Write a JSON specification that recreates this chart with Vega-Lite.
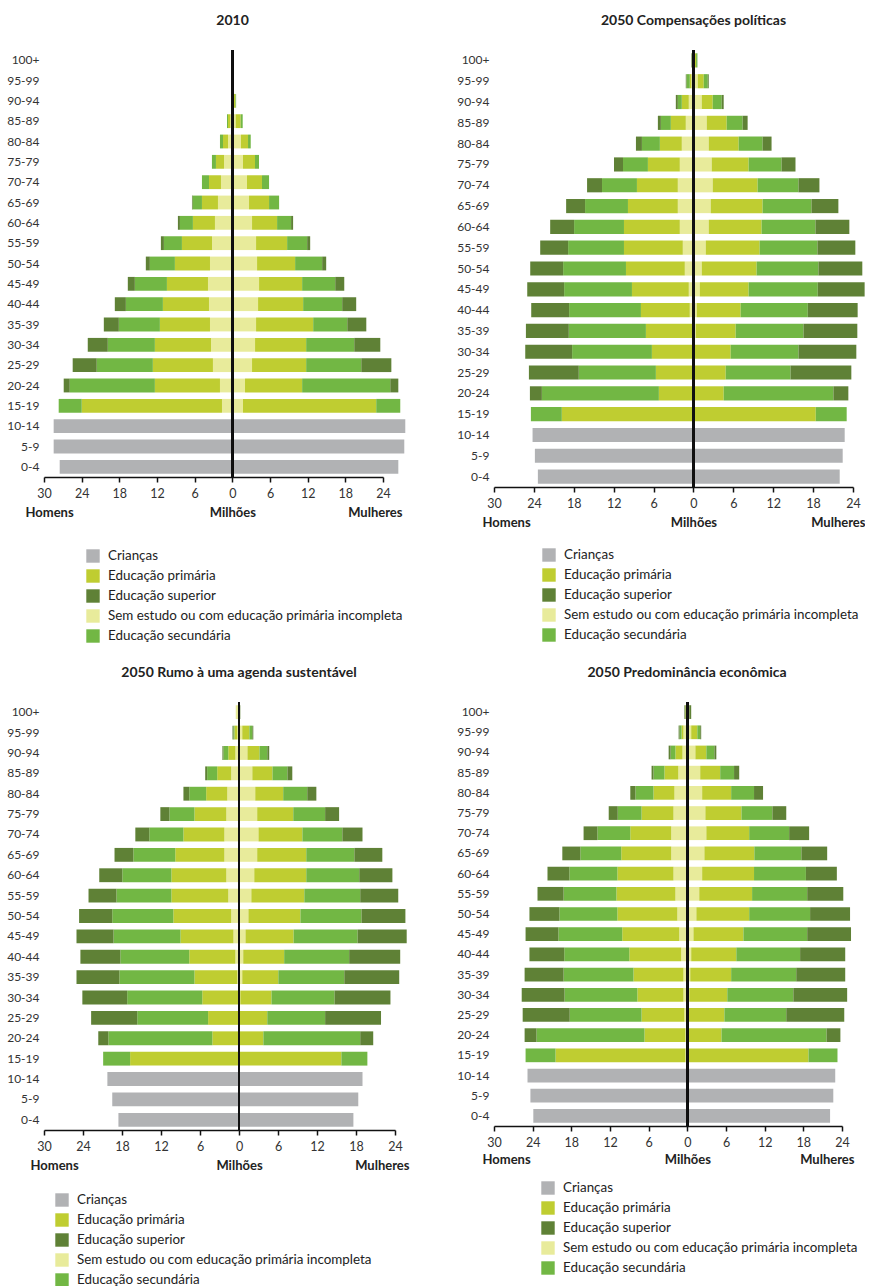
{
"$schema": "https://vega.github.io/schema/vega-lite/v6.json",
"padding": {"left": 6, "top": 14, "right": 0, "bottom": 0},
"config": {"font": "Lato", "view": {"stroke": null},
 "title": {"font": "Lato", "fontSize": 14, "fontWeight": "bold", "color": "#222"},
 "axis": {"labelFont": "Lato", "labelColor": "#333", "labelFontSize": 12},
 "legend": {"labelFont": "Lato", "labelFontSize": 13.4, "labelColor": "#222", "symbolType": "square", "symbolSize": 180, "symbolStrokeWidth": 0, "symbolOpacity": 1, "rowPadding": 6, "labelOffset": 8, "labelLimit": 400}},
"datasets": {
"cats": [
 {"k": "cri", "cat": "Crianças", "o": 0},
 {"k": "sem", "cat": "Sem estudo ou com educação primária incompleta", "o": 1},
 {"k": "pri", "cat": "Educação primária", "o": 2},
 {"k": "sec", "cat": "Educação secundária", "o": 3},
 {"k": "sup", "cat": "Educação superior", "o": 4}
],
"d": [
{"p":"a","g":"95-99","k":"pri","v":-0.2},
{"p":"a","g":"90-94","k":"pri","v":-0.2},{"p":"a","g":"90-94","k":"pri","v":0.5},{"p":"a","g":"90-94","k":"sec","v":0.1},
{"p":"a","g":"85-89","k":"sem","v":-0.32},{"p":"a","g":"85-89","k":"pri","v":-0.37},{"p":"a","g":"85-89","k":"sec","v":-0.16},{"p":"a","g":"85-89","k":"sem","v":0.53},{"p":"a","g":"85-89","k":"pri","v":0.8},{"p":"a","g":"85-89","k":"sec","v":0.32},
{"p":"a","g":"80-84","k":"sem","v":-0.69},{"p":"a","g":"80-84","k":"pri","v":-0.8},{"p":"a","g":"80-84","k":"sec","v":-0.48},{"p":"a","g":"80-84","k":"sem","v":1.38},{"p":"a","g":"80-84","k":"pri","v":1.12},{"p":"a","g":"80-84","k":"sec","v":0.43},
{"p":"a","g":"75-79","k":"sem","v":-1.33},{"p":"a","g":"75-79","k":"pri","v":-1.28},{"p":"a","g":"75-79","k":"sec","v":-0.64},{"p":"a","g":"75-79","k":"sem","v":1.7},{"p":"a","g":"75-79","k":"pri","v":1.91},{"p":"a","g":"75-79","k":"sec","v":0.64},
{"p":"a","g":"70-74","k":"sem","v":-1.81},{"p":"a","g":"70-74","k":"pri","v":-1.91},{"p":"a","g":"70-74","k":"sec","v":-1.12},{"p":"a","g":"70-74","k":"sem","v":2.34},{"p":"a","g":"70-74","k":"pri","v":2.39},{"p":"a","g":"70-74","k":"sec","v":1.12},
{"p":"a","g":"65-69","k":"sem","v":-2.29},{"p":"a","g":"65-69","k":"pri","v":-2.55},{"p":"a","g":"65-69","k":"sec","v":-1.49},{"p":"a","g":"65-69","k":"sup","v":-0.1},{"p":"a","g":"65-69","k":"sem","v":2.66},{"p":"a","g":"65-69","k":"pri","v":3.19},{"p":"a","g":"65-69","k":"sec","v":1.6},
{"p":"a","g":"60-64","k":"sem","v":-2.77},{"p":"a","g":"60-64","k":"pri","v":-3.51},{"p":"a","g":"60-64","k":"sec","v":-2.07},{"p":"a","g":"60-64","k":"sup","v":-0.32},{"p":"a","g":"60-64","k":"sem","v":3.14},{"p":"a","g":"60-64","k":"pri","v":3.99},{"p":"a","g":"60-64","k":"sec","v":2.23},{"p":"a","g":"60-64","k":"sup","v":0.32},
{"p":"a","g":"55-59","k":"sem","v":-3.24},{"p":"a","g":"55-59","k":"pri","v":-4.79},{"p":"a","g":"55-59","k":"sec","v":-2.87},{"p":"a","g":"55-59","k":"sup","v":-0.48},{"p":"a","g":"55-59","k":"sem","v":3.78},{"p":"a","g":"55-59","k":"pri","v":4.95},{"p":"a","g":"55-59","k":"sec","v":3.19},{"p":"a","g":"55-59","k":"sup","v":0.48},
{"p":"a","g":"50-54","k":"sem","v":-3.56},{"p":"a","g":"50-54","k":"pri","v":-5.59},{"p":"a","g":"50-54","k":"sec","v":-3.99},{"p":"a","g":"50-54","k":"sup","v":-0.64},{"p":"a","g":"50-54","k":"sem","v":3.94},{"p":"a","g":"50-54","k":"pri","v":6.06},{"p":"a","g":"50-54","k":"sec","v":4.31},{"p":"a","g":"50-54","k":"sup","v":0.64},
{"p":"a","g":"45-49","k":"sem","v":-3.88},{"p":"a","g":"45-49","k":"pri","v":-6.54},{"p":"a","g":"45-49","k":"sec","v":-5.11},{"p":"a","g":"45-49","k":"sup","v":-1.12},{"p":"a","g":"45-49","k":"sem","v":4.26},{"p":"a","g":"45-49","k":"pri","v":6.86},{"p":"a","g":"45-49","k":"sec","v":5.27},{"p":"a","g":"45-49","k":"sup","v":1.44},
{"p":"a","g":"40-44","k":"sem","v":-3.72},{"p":"a","g":"40-44","k":"pri","v":-7.34},{"p":"a","g":"40-44","k":"sec","v":-5.9},{"p":"a","g":"40-44","k":"sup","v":-1.76},{"p":"a","g":"40-44","k":"sem","v":4.1},{"p":"a","g":"40-44","k":"pri","v":7.18},{"p":"a","g":"40-44","k":"sec","v":6.22},{"p":"a","g":"40-44","k":"sup","v":2.23},
{"p":"a","g":"35-39","k":"sem","v":-3.56},{"p":"a","g":"35-39","k":"pri","v":-7.98},{"p":"a","g":"35-39","k":"sec","v":-6.54},{"p":"a","g":"35-39","k":"sup","v":-2.39},{"p":"a","g":"35-39","k":"sem","v":3.78},{"p":"a","g":"35-39","k":"pri","v":9.1},{"p":"a","g":"35-39","k":"sec","v":5.43},{"p":"a","g":"35-39","k":"sup","v":3.03},
{"p":"a","g":"30-34","k":"sem","v":-3.4},{"p":"a","g":"30-34","k":"pri","v":-8.94},{"p":"a","g":"30-34","k":"sec","v":-7.5},{"p":"a","g":"30-34","k":"sup","v":-3.19},{"p":"a","g":"30-34","k":"sem","v":3.62},{"p":"a","g":"30-34","k":"pri","v":8.14},{"p":"a","g":"30-34","k":"sec","v":7.66},{"p":"a","g":"30-34","k":"sup","v":4.15},
{"p":"a","g":"25-29","k":"sem","v":-3.09},{"p":"a","g":"25-29","k":"pri","v":-9.57},{"p":"a","g":"25-29","k":"sec","v":-8.94},{"p":"a","g":"25-29","k":"sup","v":-3.83},{"p":"a","g":"25-29","k":"sem","v":3.14},{"p":"a","g":"25-29","k":"pri","v":8.62},{"p":"a","g":"25-29","k":"sec","v":8.78},{"p":"a","g":"25-29","k":"sup","v":4.79},
{"p":"a","g":"20-24","k":"sem","v":-1.97},{"p":"a","g":"20-24","k":"pri","v":-10.37},{"p":"a","g":"20-24","k":"sec","v":-13.56},{"p":"a","g":"20-24","k":"sup","v":-0.96},{"p":"a","g":"20-24","k":"sem","v":2.02},{"p":"a","g":"20-24","k":"pri","v":9.1},{"p":"a","g":"20-24","k":"sec","v":14.04},{"p":"a","g":"20-24","k":"sup","v":1.28},
{"p":"a","g":"15-19","k":"sem","v":-1.65},{"p":"a","g":"15-19","k":"pri","v":-22.34},{"p":"a","g":"15-19","k":"sec","v":-3.67},{"p":"a","g":"15-19","k":"sem","v":1.7},{"p":"a","g":"15-19","k":"pri","v":21.22},{"p":"a","g":"15-19","k":"sec","v":3.83},
{"p":"a","g":"10-14","k":"cri","v":-28.46},{"p":"a","g":"10-14","k":"cri","v":27.55},
{"p":"a","g":"5-9","k":"cri","v":-28.46},{"p":"a","g":"5-9","k":"cri","v":27.39},
{"p":"a","g":"0-4","k":"cri","v":-27.5},{"p":"a","g":"0-4","k":"cri","v":26.44},

{"p":"b","g":"100+","k":"pri","v":-0.1},{"p":"b","g":"100+","k":"sup","v":-0.2},{"p":"b","g":"100+","k":"sem","v":0.1},{"p":"b","g":"100+","k":"pri","v":0.3},{"p":"b","g":"100+","k":"sec","v":0.2},
{"p":"b","g":"95-99","k":"sem","v":-0.3},{"p":"b","g":"95-99","k":"pri","v":-0.25},{"p":"b","g":"95-99","k":"sec","v":-0.5},{"p":"b","g":"95-99","k":"sup","v":-0.1},{"p":"b","g":"95-99","k":"sem","v":0.65},{"p":"b","g":"95-99","k":"pri","v":0.9},{"p":"b","g":"95-99","k":"sec","v":0.6},{"p":"b","g":"95-99","k":"sup","v":0.15},
{"p":"b","g":"90-94","k":"sem","v":-0.7},{"p":"b","g":"90-94","k":"pri","v":-1.05},{"p":"b","g":"90-94","k":"sec","v":-0.6},{"p":"b","g":"90-94","k":"sup","v":-0.3},{"p":"b","g":"90-94","k":"sem","v":1.25},{"p":"b","g":"90-94","k":"pri","v":1.65},{"p":"b","g":"90-94","k":"sec","v":1.35},{"p":"b","g":"90-94","k":"sup","v":0.3},
{"p":"b","g":"85-89","k":"sem","v":-1.15},{"p":"b","g":"85-89","k":"pri","v":-2.25},{"p":"b","g":"85-89","k":"sec","v":-1.5},{"p":"b","g":"85-89","k":"sup","v":-0.45},{"p":"b","g":"85-89","k":"sem","v":2.0},{"p":"b","g":"85-89","k":"pri","v":3.0},{"p":"b","g":"85-89","k":"sec","v":2.4},{"p":"b","g":"85-89","k":"sup","v":0.75},
{"p":"b","g":"80-84","k":"sem","v":-1.75},{"p":"b","g":"80-84","k":"pri","v":-3.3},{"p":"b","g":"80-84","k":"sec","v":-2.7},{"p":"b","g":"80-84","k":"sup","v":-0.9},{"p":"b","g":"80-84","k":"sem","v":2.3},{"p":"b","g":"80-84","k":"pri","v":4.5},{"p":"b","g":"80-84","k":"sec","v":3.6},{"p":"b","g":"80-84","k":"sup","v":1.35},
{"p":"b","g":"75-79","k":"sem","v":-2.05},{"p":"b","g":"75-79","k":"pri","v":-4.8},{"p":"b","g":"75-79","k":"sec","v":-3.75},{"p":"b","g":"75-79","k":"sup","v":-1.35},{"p":"b","g":"75-79","k":"sem","v":2.75},{"p":"b","g":"75-79","k":"pri","v":5.55},{"p":"b","g":"75-79","k":"sec","v":4.95},{"p":"b","g":"75-79","k":"sup","v":2.1},
{"p":"b","g":"70-74","k":"sem","v":-2.35},{"p":"b","g":"70-74","k":"pri","v":-6.15},{"p":"b","g":"70-74","k":"sec","v":-5.25},{"p":"b","g":"70-74","k":"sup","v":-2.25},{"p":"b","g":"70-74","k":"sem","v":2.9},{"p":"b","g":"70-74","k":"pri","v":6.75},{"p":"b","g":"70-74","k":"sec","v":6.15},{"p":"b","g":"70-74","k":"sup","v":3.15},
{"p":"b","g":"65-69","k":"sem","v":-2.35},{"p":"b","g":"65-69","k":"pri","v":-7.5},{"p":"b","g":"65-69","k":"sec","v":-6.45},{"p":"b","g":"65-69","k":"sup","v":-2.85},{"p":"b","g":"65-69","k":"sem","v":2.6},{"p":"b","g":"65-69","k":"pri","v":7.8},{"p":"b","g":"65-69","k":"sec","v":7.35},{"p":"b","g":"65-69","k":"sup","v":4.05},
{"p":"b","g":"60-64","k":"sem","v":-2.05},{"p":"b","g":"60-64","k":"pri","v":-8.4},{"p":"b","g":"60-64","k":"sec","v":-7.5},{"p":"b","g":"60-64","k":"sup","v":-3.6},{"p":"b","g":"60-64","k":"sem","v":2.3},{"p":"b","g":"60-64","k":"pri","v":7.95},{"p":"b","g":"60-64","k":"sec","v":8.1},{"p":"b","g":"60-64","k":"sup","v":5.1},
{"p":"b","g":"55-59","k":"sem","v":-1.6},{"p":"b","g":"55-59","k":"pri","v":-8.85},{"p":"b","g":"55-59","k":"sec","v":-8.4},{"p":"b","g":"55-59","k":"sup","v":-4.2},{"p":"b","g":"55-59","k":"sem","v":1.85},{"p":"b","g":"55-59","k":"pri","v":8.1},{"p":"b","g":"55-59","k":"sec","v":8.7},{"p":"b","g":"55-59","k":"sup","v":5.7},
{"p":"b","g":"50-54","k":"sem","v":-1.3},{"p":"b","g":"50-54","k":"pri","v":-8.85},{"p":"b","g":"50-54","k":"sec","v":-9.45},{"p":"b","g":"50-54","k":"sup","v":-4.95},{"p":"b","g":"50-54","k":"sem","v":1.25},{"p":"b","g":"50-54","k":"pri","v":8.25},{"p":"b","g":"50-54","k":"sec","v":9.3},{"p":"b","g":"50-54","k":"sup","v":6.6},
{"p":"b","g":"45-49","k":"sem","v":-0.7},{"p":"b","g":"45-49","k":"pri","v":-8.55},{"p":"b","g":"45-49","k":"sec","v":-10.2},{"p":"b","g":"45-49","k":"sup","v":-5.55},{"p":"b","g":"45-49","k":"sem","v":0.95},{"p":"b","g":"45-49","k":"pri","v":7.35},{"p":"b","g":"45-49","k":"sec","v":10.4},{"p":"b","g":"45-49","k":"sup","v":7.05},
{"p":"b","g":"40-44","k":"sem","v":-0.55},{"p":"b","g":"40-44","k":"pri","v":-7.35},{"p":"b","g":"40-44","k":"sec","v":-10.8},{"p":"b","g":"40-44","k":"sup","v":-5.7},{"p":"b","g":"40-44","k":"sem","v":0.5},{"p":"b","g":"40-44","k":"pri","v":6.6},{"p":"b","g":"40-44","k":"sec","v":10.1},{"p":"b","g":"40-44","k":"sup","v":7.5},
{"p":"b","g":"35-39","k":"sem","v":-0.2},{"p":"b","g":"35-39","k":"pri","v":-6.95},{"p":"b","g":"35-39","k":"sec","v":-11.6},{"p":"b","g":"35-39","k":"sup","v":-6.45},{"p":"b","g":"35-39","k":"sem","v":0.35},{"p":"b","g":"35-39","k":"pri","v":6.0},{"p":"b","g":"35-39","k":"sec","v":10.2},{"p":"b","g":"35-39","k":"sup","v":8.1},
{"p":"b","g":"30-34","k":"sem","v":-0.2},{"p":"b","g":"30-34","k":"pri","v":-6.05},{"p":"b","g":"30-34","k":"sec","v":-12.0},{"p":"b","g":"30-34","k":"sup","v":-7.05},{"p":"b","g":"30-34","k":"sem","v":0.1},{"p":"b","g":"30-34","k":"pri","v":5.5},{"p":"b","g":"30-34","k":"sec","v":10.2},{"p":"b","g":"30-34","k":"sup","v":8.7},
{"p":"b","g":"25-29","k":"sem","v":-0.1},{"p":"b","g":"25-29","k":"pri","v":-5.55},{"p":"b","g":"25-29","k":"sec","v":-11.6},{"p":"b","g":"25-29","k":"sup","v":-7.5},{"p":"b","g":"25-29","k":"sem","v":0.1},{"p":"b","g":"25-29","k":"pri","v":4.75},{"p":"b","g":"25-29","k":"sec","v":9.75},{"p":"b","g":"25-29","k":"sup","v":9.15},
{"p":"b","g":"20-24","k":"sem","v":-0.1},{"p":"b","g":"20-24","k":"pri","v":-5.1},{"p":"b","g":"20-24","k":"sec","v":-17.6},{"p":"b","g":"20-24","k":"sup","v":-1.8},{"p":"b","g":"20-24","k":"sem","v":0.1},{"p":"b","g":"20-24","k":"pri","v":4.45},{"p":"b","g":"20-24","k":"sec","v":16.5},{"p":"b","g":"20-24","k":"sup","v":2.25},
{"p":"b","g":"15-19","k":"sem","v":-0.1},{"p":"b","g":"15-19","k":"pri","v":-19.7},{"p":"b","g":"15-19","k":"sec","v":-4.65},{"p":"b","g":"15-19","k":"sem","v":0.1},{"p":"b","g":"15-19","k":"pri","v":18.3},{"p":"b","g":"15-19","k":"sec","v":4.65},
{"p":"b","g":"10-14","k":"cri","v":-24.2},{"p":"b","g":"10-14","k":"cri","v":22.75},
{"p":"b","g":"5-9","k":"cri","v":-23.85},{"p":"b","g":"5-9","k":"cri","v":22.45},
{"p":"b","g":"0-4","k":"cri","v":-23.4},{"p":"b","g":"0-4","k":"cri","v":22.0},

{"p":"c","g":"100+","k":"sem","v":-0.5},{"p":"c","g":"100+","k":"sup","v":0.2},
{"p":"c","g":"95-99","k":"sem","v":-0.25},{"p":"c","g":"95-99","k":"pri","v":-0.45},{"p":"c","g":"95-99","k":"sec","v":-0.15},{"p":"c","g":"95-99","k":"sup","v":-0.15},{"p":"c","g":"95-99","k":"sem","v":0.5},{"p":"c","g":"95-99","k":"pri","v":1.1},{"p":"c","g":"95-99","k":"sec","v":0.45},{"p":"c","g":"95-99","k":"sup","v":0.15},
{"p":"c","g":"90-94","k":"sem","v":-0.55},{"p":"c","g":"90-94","k":"pri","v":-1.1},{"p":"c","g":"90-94","k":"sec","v":-0.75},{"p":"c","g":"90-94","k":"sup","v":-0.15},{"p":"c","g":"90-94","k":"sem","v":1.3},{"p":"c","g":"90-94","k":"pri","v":1.85},{"p":"c","g":"90-94","k":"sec","v":1.2},{"p":"c","g":"90-94","k":"sup","v":0.3},
{"p":"c","g":"85-89","k":"sem","v":-1.2},{"p":"c","g":"85-89","k":"pri","v":-2.15},{"p":"c","g":"85-89","k":"sec","v":-1.55},{"p":"c","g":"85-89","k":"sup","v":-0.3},{"p":"c","g":"85-89","k":"sem","v":2.05},{"p":"c","g":"85-89","k":"pri","v":3.1},{"p":"c","g":"85-89","k":"sec","v":2.3},{"p":"c","g":"85-89","k":"sup","v":0.75},
{"p":"c","g":"80-84","k":"sem","v":-1.8},{"p":"c","g":"80-84","k":"pri","v":-3.25},{"p":"c","g":"80-84","k":"sec","v":-2.6},{"p":"c","g":"80-84","k":"sup","v":-0.9},{"p":"c","g":"80-84","k":"sem","v":2.5},{"p":"c","g":"80-84","k":"pri","v":4.3},{"p":"c","g":"80-84","k":"sec","v":3.7},{"p":"c","g":"80-84","k":"sup","v":1.4},
{"p":"c","g":"75-79","k":"sem","v":-1.95},{"p":"c","g":"75-79","k":"pri","v":-4.9},{"p":"c","g":"75-79","k":"sec","v":-3.85},{"p":"c","g":"75-79","k":"sup","v":-1.4},{"p":"c","g":"75-79","k":"sem","v":2.8},{"p":"c","g":"75-79","k":"pri","v":5.55},{"p":"c","g":"75-79","k":"sec","v":4.9},{"p":"c","g":"75-79","k":"sup","v":2.15},
{"p":"c","g":"70-74","k":"sem","v":-2.25},{"p":"c","g":"70-74","k":"pri","v":-6.3},{"p":"c","g":"70-74","k":"sec","v":-5.25},{"p":"c","g":"70-74","k":"sup","v":-2.15},{"p":"c","g":"70-74","k":"sem","v":3.0},{"p":"c","g":"70-74","k":"pri","v":6.75},{"p":"c","g":"70-74","k":"sec","v":6.15},{"p":"c","g":"70-74","k":"sup","v":3.1},
{"p":"c","g":"65-69","k":"sem","v":-2.25},{"p":"c","g":"65-69","k":"pri","v":-7.55},{"p":"c","g":"65-69","k":"sec","v":-6.45},{"p":"c","g":"65-69","k":"sup","v":-2.9},{"p":"c","g":"65-69","k":"sem","v":2.8},{"p":"c","g":"65-69","k":"pri","v":7.55},{"p":"c","g":"65-69","k":"sec","v":7.4},{"p":"c","g":"65-69","k":"sup","v":4.3},
{"p":"c","g":"60-64","k":"sem","v":-1.95},{"p":"c","g":"60-64","k":"pri","v":-8.45},{"p":"c","g":"60-64","k":"sec","v":-7.55},{"p":"c","g":"60-64","k":"sup","v":-3.55},{"p":"c","g":"60-64","k":"sem","v":2.35},{"p":"c","g":"60-64","k":"pri","v":8.0},{"p":"c","g":"60-64","k":"sec","v":8.15},{"p":"c","g":"60-64","k":"sup","v":5.1},
{"p":"c","g":"55-59","k":"sem","v":-1.65},{"p":"c","g":"55-59","k":"pri","v":-8.75},{"p":"c","g":"55-59","k":"sec","v":-8.45},{"p":"c","g":"55-59","k":"sup","v":-4.3},{"p":"c","g":"55-59","k":"sem","v":1.9},{"p":"c","g":"55-59","k":"pri","v":8.15},{"p":"c","g":"55-59","k":"sec","v":8.6},{"p":"c","g":"55-59","k":"sup","v":5.85},
{"p":"c","g":"50-54","k":"sem","v":-1.2},{"p":"c","g":"50-54","k":"pri","v":-8.9},{"p":"c","g":"50-54","k":"sec","v":-9.4},{"p":"c","g":"50-54","k":"sup","v":-5.1},{"p":"c","g":"50-54","k":"sem","v":1.45},{"p":"c","g":"50-54","k":"pri","v":8.0},{"p":"c","g":"50-54","k":"sec","v":9.4},{"p":"c","g":"50-54","k":"sup","v":6.75},
{"p":"c","g":"45-49","k":"sem","v":-0.85},{"p":"c","g":"45-49","k":"pri","v":-8.15},{"p":"c","g":"45-49","k":"sec","v":-10.3},{"p":"c","g":"45-49","k":"sup","v":-5.7},{"p":"c","g":"45-49","k":"sem","v":1.0},{"p":"c","g":"45-49","k":"pri","v":7.4},{"p":"c","g":"45-49","k":"sec","v":9.85},{"p":"c","g":"45-49","k":"sup","v":7.55},
{"p":"c","g":"40-44","k":"sem","v":-0.55},{"p":"c","g":"40-44","k":"pri","v":-7.1},{"p":"c","g":"40-44","k":"sec","v":-10.6},{"p":"c","g":"40-44","k":"sup","v":-6.15},{"p":"c","g":"40-44","k":"sem","v":0.65},{"p":"c","g":"40-44","k":"pri","v":6.3},{"p":"c","g":"40-44","k":"sec","v":10.0},{"p":"c","g":"40-44","k":"sup","v":7.85},
{"p":"c","g":"35-39","k":"sem","v":-0.25},{"p":"c","g":"35-39","k":"pri","v":-6.6},{"p":"c","g":"35-39","k":"sec","v":-11.55},{"p":"c","g":"35-39","k":"sup","v":-6.6},{"p":"c","g":"35-39","k":"sem","v":0.5},{"p":"c","g":"35-39","k":"pri","v":5.55},{"p":"c","g":"35-39","k":"sec","v":10.15},{"p":"c","g":"35-39","k":"sup","v":8.45},
{"p":"c","g":"30-34","k":"sem","v":-0.1},{"p":"c","g":"30-34","k":"pri","v":-5.55},{"p":"c","g":"30-34","k":"sec","v":-11.55},{"p":"c","g":"30-34","k":"sup","v":-6.9},{"p":"c","g":"30-34","k":"sem","v":0.2},{"p":"c","g":"30-34","k":"pri","v":4.8},{"p":"c","g":"30-34","k":"sec","v":9.7},{"p":"c","g":"30-34","k":"sup","v":8.6},
{"p":"c","g":"25-29","k":"sem","v":-0.05},{"p":"c","g":"25-29","k":"pri","v":-4.7},{"p":"c","g":"25-29","k":"sec","v":-10.9},{"p":"c","g":"25-29","k":"sup","v":-7.1},{"p":"c","g":"25-29","k":"sem","v":0.05},{"p":"c","g":"25-29","k":"pri","v":4.3},{"p":"c","g":"25-29","k":"sec","v":8.9},{"p":"c","g":"25-29","k":"sup","v":8.6},
{"p":"c","g":"20-24","k":"sem","v":-0.05},{"p":"c","g":"20-24","k":"pri","v":-4.05},{"p":"c","g":"20-24","k":"sec","v":-16.0},{"p":"c","g":"20-24","k":"sup","v":-1.55},{"p":"c","g":"20-24","k":"sem","v":0.05},{"p":"c","g":"20-24","k":"pri","v":3.7},{"p":"c","g":"20-24","k":"sec","v":14.9},{"p":"c","g":"20-24","k":"sup","v":2.0},
{"p":"c","g":"15-19","k":"sem","v":-0.05},{"p":"c","g":"15-19","k":"pri","v":-16.7},{"p":"c","g":"15-19","k":"sec","v":-4.15},{"p":"c","g":"15-19","k":"sem","v":0.05},{"p":"c","g":"15-19","k":"pri","v":15.7},{"p":"c","g":"15-19","k":"sec","v":4.0},
{"p":"c","g":"10-14","k":"cri","v":-20.25},{"p":"c","g":"10-14","k":"cri","v":19.0},
{"p":"c","g":"5-9","k":"cri","v":-19.5},{"p":"c","g":"5-9","k":"cri","v":18.35},
{"p":"c","g":"0-4","k":"cri","v":-18.55},{"p":"c","g":"0-4","k":"cri","v":17.6},

{"p":"d","g":"100+","k":"pri","v":-0.3},{"p":"d","g":"100+","k":"sup","v":-0.15},{"p":"d","g":"100+","k":"pri","v":0.3},{"p":"d","g":"100+","k":"sup","v":0.3},
{"p":"d","g":"95-99","k":"sem","v":-0.6},{"p":"d","g":"95-99","k":"pri","v":-0.3},{"p":"d","g":"95-99","k":"sec","v":-0.3},{"p":"d","g":"95-99","k":"sup","v":-0.15},{"p":"d","g":"95-99","k":"sem","v":0.6},{"p":"d","g":"95-99","k":"pri","v":0.95},{"p":"d","g":"95-99","k":"sec","v":0.45},{"p":"d","g":"95-99","k":"sup","v":0.15},
{"p":"d","g":"90-94","k":"sem","v":-0.75},{"p":"d","g":"90-94","k":"pri","v":-1.1},{"p":"d","g":"90-94","k":"sec","v":-0.75},{"p":"d","g":"90-94","k":"sup","v":-0.3},{"p":"d","g":"90-94","k":"sem","v":1.25},{"p":"d","g":"90-94","k":"pri","v":1.7},{"p":"d","g":"90-94","k":"sec","v":1.25},{"p":"d","g":"90-94","k":"sup","v":0.3},
{"p":"d","g":"85-89","k":"sem","v":-1.4},{"p":"d","g":"85-89","k":"pri","v":-2.15},{"p":"d","g":"85-89","k":"sec","v":-1.7},{"p":"d","g":"85-89","k":"sup","v":-0.3},{"p":"d","g":"85-89","k":"sem","v":2.0},{"p":"d","g":"85-89","k":"pri","v":3.1},{"p":"d","g":"85-89","k":"sec","v":2.15},{"p":"d","g":"85-89","k":"sup","v":0.8},
{"p":"d","g":"80-84","k":"sem","v":-2.0},{"p":"d","g":"80-84","k":"pri","v":-3.25},{"p":"d","g":"80-84","k":"sec","v":-2.8},{"p":"d","g":"80-84","k":"sup","v":-0.8},{"p":"d","g":"80-84","k":"sem","v":2.3},{"p":"d","g":"80-84","k":"pri","v":4.5},{"p":"d","g":"80-84","k":"sec","v":3.55},{"p":"d","g":"80-84","k":"sup","v":1.4},
{"p":"d","g":"75-79","k":"sem","v":-2.15},{"p":"d","g":"75-79","k":"pri","v":-4.95},{"p":"d","g":"75-79","k":"sec","v":-3.7},{"p":"d","g":"75-79","k":"sup","v":-1.4},{"p":"d","g":"75-79","k":"sem","v":2.8},{"p":"d","g":"75-79","k":"pri","v":5.6},{"p":"d","g":"75-79","k":"sec","v":4.8},{"p":"d","g":"75-79","k":"sup","v":2.15},
{"p":"d","g":"70-74","k":"sem","v":-2.5},{"p":"d","g":"70-74","k":"pri","v":-6.35},{"p":"d","g":"70-74","k":"sec","v":-5.1},{"p":"d","g":"70-74","k":"sup","v":-2.15},{"p":"d","g":"70-74","k":"sem","v":2.95},{"p":"d","g":"70-74","k":"pri","v":6.65},{"p":"d","g":"70-74","k":"sec","v":6.2},{"p":"d","g":"70-74","k":"sup","v":3.1},
{"p":"d","g":"65-69","k":"sem","v":-2.5},{"p":"d","g":"65-69","k":"pri","v":-7.75},{"p":"d","g":"65-69","k":"sec","v":-6.35},{"p":"d","g":"65-69","k":"sup","v":-2.8},{"p":"d","g":"65-69","k":"sem","v":2.65},{"p":"d","g":"65-69","k":"pri","v":7.75},{"p":"d","g":"65-69","k":"sec","v":7.3},{"p":"d","g":"65-69","k":"sup","v":4.0},
{"p":"d","g":"60-64","k":"sem","v":-2.15},{"p":"d","g":"60-64","k":"pri","v":-8.7},{"p":"d","g":"60-64","k":"sec","v":-7.45},{"p":"d","g":"60-64","k":"sup","v":-3.4},{"p":"d","g":"60-64","k":"sem","v":2.3},{"p":"d","g":"60-64","k":"pri","v":8.05},{"p":"d","g":"60-64","k":"sec","v":8.05},{"p":"d","g":"60-64","k":"sup","v":4.8},
{"p":"d","g":"55-59","k":"sem","v":-1.85},{"p":"d","g":"55-59","k":"pri","v":-9.15},{"p":"d","g":"55-59","k":"sec","v":-8.2},{"p":"d","g":"55-59","k":"sup","v":-4.05},{"p":"d","g":"55-59","k":"sem","v":1.85},{"p":"d","g":"55-59","k":"pri","v":8.2},{"p":"d","g":"55-59","k":"sec","v":8.55},{"p":"d","g":"55-59","k":"sup","v":5.6},
{"p":"d","g":"50-54","k":"sem","v":-1.55},{"p":"d","g":"50-54","k":"pri","v":-9.3},{"p":"d","g":"50-54","k":"sec","v":-9.0},{"p":"d","g":"50-54","k":"sup","v":-4.65},{"p":"d","g":"50-54","k":"sem","v":1.4},{"p":"d","g":"50-54","k":"pri","v":8.2},{"p":"d","g":"50-54","k":"sec","v":9.45},{"p":"d","g":"50-54","k":"sup","v":6.2},
{"p":"d","g":"45-49","k":"sem","v":-1.25},{"p":"d","g":"45-49","k":"pri","v":-8.85},{"p":"d","g":"45-49","k":"sec","v":-9.9},{"p":"d","g":"45-49","k":"sup","v":-5.1},{"p":"d","g":"45-49","k":"sem","v":0.95},{"p":"d","g":"45-49","k":"pri","v":7.75},{"p":"d","g":"45-49","k":"sec","v":9.9},{"p":"d","g":"45-49","k":"sup","v":6.8},
{"p":"d","g":"40-44","k":"sem","v":-0.95},{"p":"d","g":"40-44","k":"pri","v":-8.05},{"p":"d","g":"40-44","k":"sec","v":-10.1},{"p":"d","g":"40-44","k":"sup","v":-5.4},{"p":"d","g":"40-44","k":"sem","v":0.6},{"p":"d","g":"40-44","k":"pri","v":7.0},{"p":"d","g":"40-44","k":"sec","v":9.9},{"p":"d","g":"40-44","k":"sup","v":7.0},
{"p":"d","g":"35-39","k":"sem","v":-0.6},{"p":"d","g":"35-39","k":"pri","v":-7.75},{"p":"d","g":"35-39","k":"sec","v":-10.85},{"p":"d","g":"35-39","k":"sup","v":-6.05},{"p":"d","g":"35-39","k":"sem","v":0.45},{"p":"d","g":"35-39","k":"pri","v":6.35},{"p":"d","g":"35-39","k":"sec","v":10.1},{"p":"d","g":"35-39","k":"sup","v":7.6},
{"p":"d","g":"30-34","k":"sem","v":-0.6},{"p":"d","g":"30-34","k":"pri","v":-7.15},{"p":"d","g":"30-34","k":"sec","v":-11.3},{"p":"d","g":"30-34","k":"sup","v":-6.65},{"p":"d","g":"30-34","k":"sem","v":0.3},{"p":"d","g":"30-34","k":"pri","v":5.9},{"p":"d","g":"30-34","k":"sec","v":10.25},{"p":"d","g":"30-34","k":"sup","v":8.35},
{"p":"d","g":"25-29","k":"sem","v":-0.45},{"p":"d","g":"25-29","k":"pri","v":-6.65},{"p":"d","g":"25-29","k":"sec","v":-11.15},{"p":"d","g":"25-29","k":"sup","v":-7.3},{"p":"d","g":"25-29","k":"sem","v":0.05},{"p":"d","g":"25-29","k":"pri","v":5.7},{"p":"d","g":"25-29","k":"sec","v":9.6},{"p":"d","g":"25-29","k":"sup","v":9.0},
{"p":"d","g":"20-24","k":"sem","v":-0.3},{"p":"d","g":"20-24","k":"pri","v":-6.35},{"p":"d","g":"20-24","k":"sec","v":-16.75},{"p":"d","g":"20-24","k":"sup","v":-1.85},{"p":"d","g":"20-24","k":"sem","v":0.05},{"p":"d","g":"20-24","k":"pri","v":5.25},{"p":"d","g":"20-24","k":"sec","v":16.3},{"p":"d","g":"20-24","k":"sup","v":2.15},
{"p":"d","g":"15-19","k":"sem","v":-0.3},{"p":"d","g":"15-19","k":"pri","v":-20.15},{"p":"d","g":"15-19","k":"sec","v":-4.65},{"p":"d","g":"15-19","k":"sem","v":0.05},{"p":"d","g":"15-19","k":"pri","v":18.75},{"p":"d","g":"15-19","k":"sec","v":4.5},
{"p":"d","g":"10-14","k":"cri","v":-24.8},{"p":"d","g":"10-14","k":"cri","v":22.95},
{"p":"d","g":"5-9","k":"cri","v":-24.35},{"p":"d","g":"5-9","k":"cri","v":22.65},
{"p":"d","g":"0-4","k":"cri","v":-23.9},{"p":"d","g":"0-4","k":"cri","v":22.15}
]},
"data": {"name": "d"},
"columns": 2,
"bounds": "flush",
"spacing": {"row": 215, "column": 99},
"resolve": {"scale": {"x": "independent", "y": "independent"}, "legend": {"color": "independent"}},
"concat": [
{
 "width": 339, "height": 427,
 "title": {"text": "2010", "anchor": "middle", "frame": "group", "dx": 19, "offset": 21},
 "transform": [{"filter": "datum.p == 'a'"}, {"lookup": "k", "from": {"data": {"name": "cats"}, "key": "k", "fields": ["cat", "o"]}}],
 "resolve": {"axis": {"x": "independent"}},
 "layer": [
  {"mark": {"type": "bar"},
   "encoding": {
    "y": {"field": "g", "type": "nominal", "sort": null, "scale": {"domain": ["100+","95-99","90-94","85-89","80-84","75-79","70-74","65-69","60-64","55-59","50-54","45-49","40-44","35-39","30-34","25-29","20-24","15-19","10-14","5-9","0-4"], "paddingInner": 0.32, "paddingOuter": 0.16}, "axis": {"title": null, "ticks": false, "domain": false, "labelPadding": 5, "labelFontSize": 12, "labelColor": "#333"}},
    "x": {"field": "v", "type": "quantitative", "stack": "zero", "scale": {"domain": [-30, 24], "nice": false, "zero": false}, "axis": {"orient": "bottom", "title": null, "values": [-30,-24,-18,-12,-6,0,6,12,18,24], "labelExpr": "abs(datum.value)", "labelFlush": false, "domainColor": "#111", "domainWidth": 1.5, "tickColor": "#111", "tickWidth": 1.5, "tickSize": 5, "grid": false, "labelPadding": 5, "labelFontSize": 12.5, "labelColor": "#333"}},
    "color": {"field": "cat", "type": "nominal", "scale": {"domain": ["Crianças","Educação primária","Educação superior","Sem estudo ou com educação primária incompleta","Educação secundária"], "range": ["#b1b2b4","#bfcd31","#5f8136","#e8eb9b","#72b744"]}, "legend": {"orient": "none", "legendX": 42, "legendY": 499, "title": null, "direction": "vertical"}},
    "order": {"field": "o", "type": "quantitative"}
   }},
  {"mark": {"type": "rule", "color": "#111", "strokeWidth": 1.5},
   "encoding": {"x": {"datum": 0, "type": "quantitative", "axis": {"orient": "bottom", "title": null, "values": [-30, 0, 24], "labelExpr": "datum.value < 0 ? 'Homens' : (datum.value > 0 ? 'Mulheres' : 'Milhões')", "labelFlush": true, "labelFlushOffset": 19, "labelFontWeight": "bold", "labelFontSize": 13, "labelColor": "#222", "domain": false, "ticks": false, "grid": false, "labelPadding": 29}}}}
 ]
},
{
 "width": 359, "height": 437,
 "title": {"text": "2050 Compensações políticas", "anchor": "middle", "frame": "group", "dx": 20, "offset": 21},
 "transform": [{"filter": "datum.p == 'b'"}, {"lookup": "k", "from": {"data": {"name": "cats"}, "key": "k", "fields": ["cat", "o"]}}],
 "resolve": {"axis": {"x": "independent"}},
 "layer": [
  {"mark": {"type": "bar"},
   "encoding": {
    "y": {"field": "g", "type": "nominal", "sort": null, "scale": {"domain": ["100+","95-99","90-94","85-89","80-84","75-79","70-74","65-69","60-64","55-59","50-54","45-49","40-44","35-39","30-34","25-29","20-24","15-19","10-14","5-9","0-4"], "paddingInner": 0.32, "paddingOuter": 0.16}, "axis": {"title": null, "ticks": false, "domain": false, "labelPadding": 5, "labelFontSize": 12, "labelColor": "#333"}},
    "x": {"field": "v", "type": "quantitative", "stack": "zero", "scale": {"domain": [-30, 24], "nice": false, "zero": false}, "axis": {"orient": "bottom", "title": null, "values": [-30,-24,-18,-12,-6,0,6,12,18,24], "labelExpr": "abs(datum.value)", "labelFlush": false, "domainColor": "#111", "domainWidth": 1.5, "tickColor": "#111", "tickWidth": 1.5, "tickSize": 5, "grid": false, "labelPadding": 5, "labelFontSize": 12.5, "labelColor": "#333"}},
    "color": {"field": "cat", "type": "nominal", "scale": {"domain": ["Crianças","Educação primária","Educação superior","Sem estudo ou com educação primária incompleta","Educação secundária"], "range": ["#b1b2b4","#bfcd31","#5f8136","#e8eb9b","#72b744"]}, "legend": {"orient": "none", "legendX": 48, "legendY": 498, "title": null, "direction": "vertical"}},
    "order": {"field": "o", "type": "quantitative"}
   }},
  {"mark": {"type": "rule", "color": "#111", "strokeWidth": 1.5},
   "encoding": {"x": {"datum": 0, "type": "quantitative", "axis": {"orient": "bottom", "title": null, "values": [-30, 0, 24], "labelExpr": "datum.value < 0 ? 'Homens' : (datum.value > 0 ? 'Mulheres' : 'Milhões')", "labelFlush": true, "labelFlushOffset": 12, "labelFontWeight": "bold", "labelFontSize": 13, "labelColor": "#222", "domain": false, "ticks": false, "grid": false, "labelPadding": 29}}}}
 ]
},
{
 "width": 351, "height": 428,
 "title": {"text": "2050 Rumo à uma agenda sustentável", "anchor": "middle", "frame": "group", "dx": 19.5, "offset": 21},
 "transform": [{"filter": "datum.p == 'c'"}, {"lookup": "k", "from": {"data": {"name": "cats"}, "key": "k", "fields": ["cat", "o"]}}],
 "resolve": {"axis": {"x": "independent"}},
 "layer": [
  {"mark": {"type": "bar"},
   "encoding": {
    "y": {"field": "g", "type": "nominal", "sort": null, "scale": {"domain": ["100+","95-99","90-94","85-89","80-84","75-79","70-74","65-69","60-64","55-59","50-54","45-49","40-44","35-39","30-34","25-29","20-24","15-19","10-14","5-9","0-4"], "paddingInner": 0.32, "paddingOuter": 0.16}, "axis": {"title": null, "ticks": false, "domain": false, "labelPadding": 5, "labelFontSize": 12, "labelColor": "#333"}},
    "x": {"field": "v", "type": "quantitative", "stack": "zero", "scale": {"domain": [-30, 24], "nice": false, "zero": false}, "axis": {"orient": "bottom", "title": null, "values": [-30,-24,-18,-12,-6,0,6,12,18,24], "labelExpr": "abs(datum.value)", "labelFlush": false, "domainColor": "#111", "domainWidth": 1.5, "tickColor": "#111", "tickWidth": 1.5, "tickSize": 5, "grid": false, "labelPadding": 5, "labelFontSize": 12.5, "labelColor": "#333"}},
    "color": {"field": "cat", "type": "nominal", "scale": {"domain": ["Crianças","Educação primária","Educação superior","Sem estudo ou com educação primária incompleta","Educação secundária"], "range": ["#b1b2b4","#bfcd31","#5f8136","#e8eb9b","#72b744"]}, "legend": {"orient": "none", "legendX": 11, "legendY": 491, "title": null, "direction": "vertical"}},
    "order": {"field": "o", "type": "quantitative"}
   }},
  {"mark": {"type": "rule", "color": "#111", "strokeWidth": 1.5},
   "encoding": {"x": {"datum": 0, "type": "quantitative", "axis": {"orient": "bottom", "title": null, "values": [-30, 0, 24], "labelExpr": "datum.value < 0 ? 'Homens' : (datum.value > 0 ? 'Mulheres' : 'Milhões')", "labelFlush": true, "labelFlushOffset": 14, "labelFontWeight": "bold", "labelFontSize": 13, "labelColor": "#222", "domain": false, "ticks": false, "grid": false, "labelPadding": 29}}}}
 ]
},
{
 "width": 348, "height": 424,
 "title": {"text": "2050 Predominância econômica", "anchor": "middle", "frame": "group", "dx": 19, "offset": 21},
 "transform": [{"filter": "datum.p == 'd'"}, {"lookup": "k", "from": {"data": {"name": "cats"}, "key": "k", "fields": ["cat", "o"]}}],
 "resolve": {"axis": {"x": "independent"}},
 "layer": [
  {"mark": {"type": "bar"},
   "encoding": {
    "y": {"field": "g", "type": "nominal", "sort": null, "scale": {"domain": ["100+","95-99","90-94","85-89","80-84","75-79","70-74","65-69","60-64","55-59","50-54","45-49","40-44","35-39","30-34","25-29","20-24","15-19","10-14","5-9","0-4"], "paddingInner": 0.32, "paddingOuter": 0.16}, "axis": {"title": null, "ticks": false, "domain": false, "labelPadding": 5, "labelFontSize": 12, "labelColor": "#333"}},
    "x": {"field": "v", "type": "quantitative", "stack": "zero", "scale": {"domain": [-30, 24], "nice": false, "zero": false}, "axis": {"orient": "bottom", "title": null, "values": [-30,-24,-18,-12,-6,0,6,12,18,24], "labelExpr": "abs(datum.value)", "labelFlush": false, "domainColor": "#111", "domainWidth": 1.5, "tickColor": "#111", "tickWidth": 1.5, "tickSize": 5, "grid": false, "labelPadding": 5, "labelFontSize": 12.5, "labelColor": "#333"}},
    "color": {"field": "cat", "type": "nominal", "scale": {"domain": ["Crianças","Educação primária","Educação superior","Sem estudo ou com educação primária incompleta","Educação secundária"], "range": ["#b1b2b4","#bfcd31","#5f8136","#e8eb9b","#72b744"]}, "legend": {"orient": "none", "legendX": 47, "legendY": 479, "title": null, "direction": "vertical"}},
    "order": {"field": "o", "type": "quantitative"}
   }},
  {"mark": {"type": "rule", "color": "#111", "strokeWidth": 1.5},
   "encoding": {"x": {"datum": 0, "type": "quantitative", "axis": {"orient": "bottom", "title": null, "values": [-30, 0, 24], "labelExpr": "datum.value < 0 ? 'Homens' : (datum.value > 0 ? 'Mulheres' : 'Milhões')", "labelFlush": true, "labelFlushOffset": 12, "labelFontWeight": "bold", "labelFontSize": 13, "labelColor": "#222", "domain": false, "ticks": false, "grid": false, "labelPadding": 27}}}}
 ]
}
]
}
